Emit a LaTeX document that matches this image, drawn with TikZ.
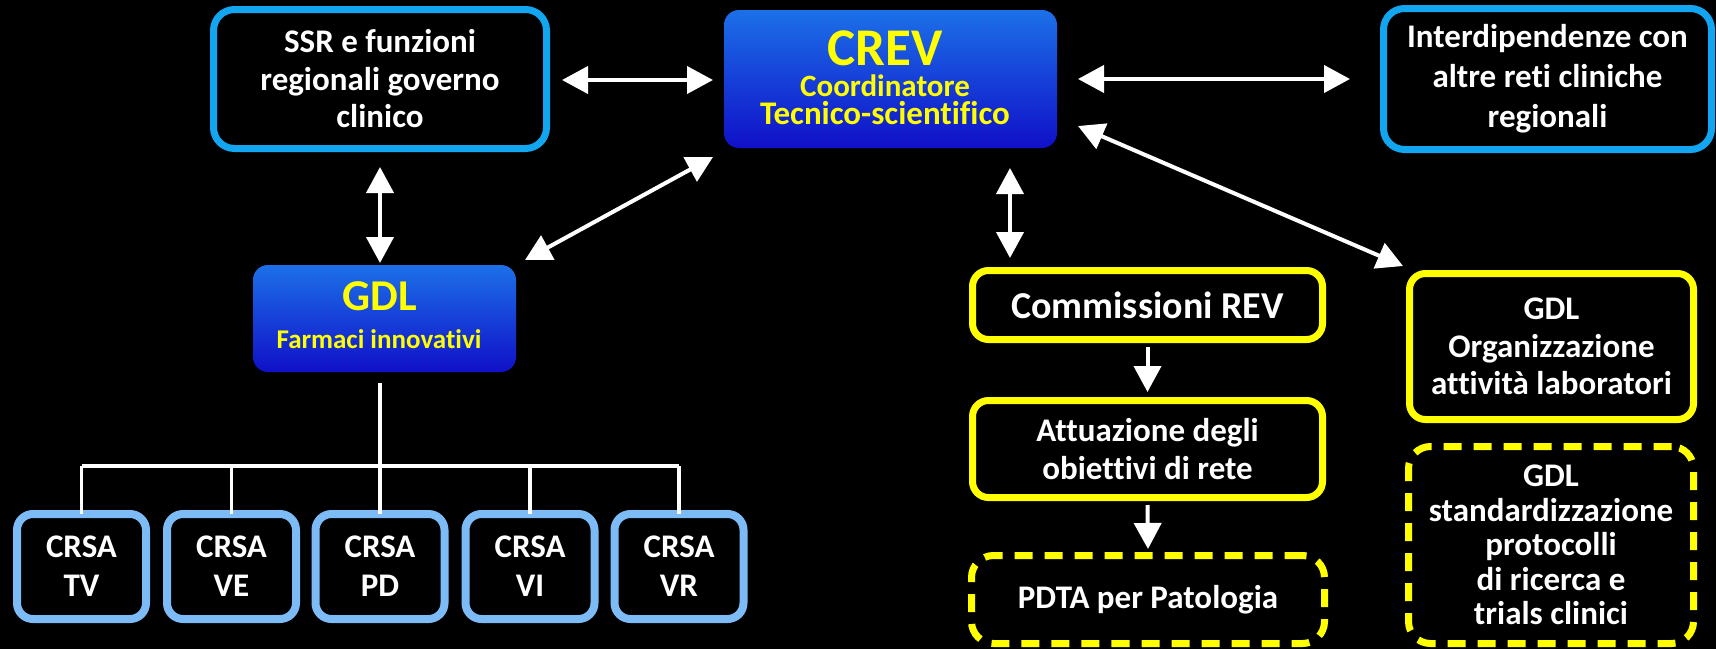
\documentclass[tikz,border=0pt]{standalone}
\usepackage{fontspec}
\setmainfont{Carlito}[Ligatures={NoCommon}]
\usetikzlibrary{arrows.meta}
\definecolor{cyanb}{RGB}{18,165,240}
\definecolor{lblue}{RGB}{125,187,247}
\definecolor{yel}{RGB}{255,255,0}
\definecolor{btop}{RGB}{28,112,232}
\definecolor{bmid}{RGB}{10,22,160}
\definecolor{bbot}{RGB}{16,16,200}
\begin{document}
\begin{tikzpicture}[x=1pt,y=-1pt,
  base/.style={rectangle, inner sep=0pt, outer sep=0pt, align=center, text=white,
    font=\bfseries\fontsize{33}{37.5}\selectfont},
  cbox/.style={base, draw=cyanb, line width=7pt, rounded corners=21pt},
  crsa/.style={base, draw=lblue, line width=8pt, rounded corners=16pt,
    minimum width=129pt, minimum height=105pt, font=\bfseries\fontsize{33}{39}\selectfont},
  ybox/.style={base, draw=yel, line width=7pt, rounded corners=16pt},
  ydash/.style={base, draw=yel, line width=7pt, rounded corners=22pt, dash pattern=on 18pt off 12pt},
  bbox/.style={base, top color=btop, middle color=bmid, bottom color=bbot, rounded corners=15pt},
  ylab/.style={inner sep=0pt, outer sep=0pt, anchor=base, text=yel, font=\bfseries},
  dbl/.style={{Triangle[width=27pt,length=26pt]}-{Triangle[width=27pt,length=26pt]}, white, line width=4pt},
  sgl/.style={-{Triangle[width=27pt,length=26pt]}, white, line width=4pt},
  tree/.style={white, line width=3.5pt}]
\fill[black] (0,0) rectangle (1716,649);
\useasboundingbox (0,0) rectangle (1716,649);

% top row
\node[cbox, minimum width=333pt, minimum height=139pt] (ssr) at (380,79)
  {SSR e funzioni\\regionali governo\\clinico};
\node[bbox, minimum width=333pt, minimum height=138pt] (crev) at (890.5,79) {};
\node[ylab, font=\bfseries\fontsize{53}{53}\selectfont] (crevA) at (885,65) {CREV};
\node[ylab, font=\bfseries\fontsize{31}{31}\selectfont] (crevB) at (885,96) {Coordinatore};
\node[ylab, font=\bfseries\fontsize{33}{33}\selectfont] (crevC) at (885,124) {Tecnico-scientifico};
\node[cbox, minimum width=328pt, minimum height=141pt, font=\bfseries\fontsize{33}{40}\selectfont] (int) at (1547.5,79)
  {Interdipendenze con\\altre reti cliniche\\regionali};

% GDL farmaci
\node[bbox, minimum width=263pt, minimum height=107pt] (gdl) at (384.5,318.5) {};
\node[ylab, font=\bfseries\fontsize{44}{44}\selectfont] (gdlA) at (380,310) {GDL};
\node[ylab, font=\bfseries\fontsize{27}{27}\selectfont] (gdlB) at (379,348) {Farmaci innovativi};

% CRSA
\node[crsa] (c1) at (81.5,566.5) {CRSA\\TV};
\node[crsa] (c2) at (231.5,566.5) {CRSA\\VE};
\node[crsa] (c3) at (380,566.5) {CRSA\\PD};
\node[crsa] (c4) at (530,566.5) {CRSA\\VI};
\node[crsa] (c5) at (679,566.5) {CRSA\\VR};

% yellow column
\node[ybox, minimum width=350pt, minimum height=69pt, font=\bfseries\fontsize{38}{40}\selectfont] (com) at (1147.5,305) {Commissioni REV};
\node[ybox, minimum width=350pt, minimum height=97pt] (att) at (1147.5,449) {Attuazione degli\\obiettivi di rete};
\node[ydash, minimum width=353pt, minimum height=88pt] (pdta) at (1148,599.5) {PDTA per Patologia};

% right column
\node[ybox, minimum width=284pt, minimum height=146pt] (org) at (1551.5,346.5)
  {GDL\\Organizzazione\\attività laboratori};
\node[ydash, minimum width=285pt, minimum height=197pt, font=\bfseries\fontsize{33}{34.5}\selectfont] (std) at (1551,545)
  {GDL\\standardizzazione\\protocolli\\di ricerca e\\trials clinici};

% connectors
\draw[dbl] ([shift={(15.5,1)}]ssr.east) -- ([shift={(-11,1)}]crev.west);
\draw[dbl] ([shift={(21,0)}]crev.east) -- ([shift={(-33.5,0)}]int.west);
\draw[dbl] ([shift={(0,18.5)}]ssr.south) -- ([shift={(-4.5,-2)}]gdl.north);
\draw[dbl] ([shift={(9,-5)}]gdl.north east) -- ([shift={(-11,9)}]crev.south west);
\draw[dbl] ([shift={(-47,20)}]crev.south east) -- ([shift={(37.5,-12.5)}]com.north west);
\draw[dbl] ([shift={(21,-22)}]crev.south east) -- ([shift={(-6.5,-7.5)}]org.north west);
\draw[sgl] ([shift={(0,7.5)}]com.south) -- ([shift={(0,-8.5)}]att.north);
\draw[sgl] ([shift={(0,7.5)}]att.south) -- ([shift={(0,-6.5)}]pdta.north);

% tree
\coordinate (hub) at (380,466);
\draw[tree] ([shift={(-4.5,11)}]gdl.south) -- (c3.north);
\draw[tree] (c1.north |- hub) -- (c5.north |- hub);
\foreach \i in {1,2,4,5} \draw[tree] (c\i.north |- hub) -- (c\i.north);
\end{tikzpicture}
\end{document}
